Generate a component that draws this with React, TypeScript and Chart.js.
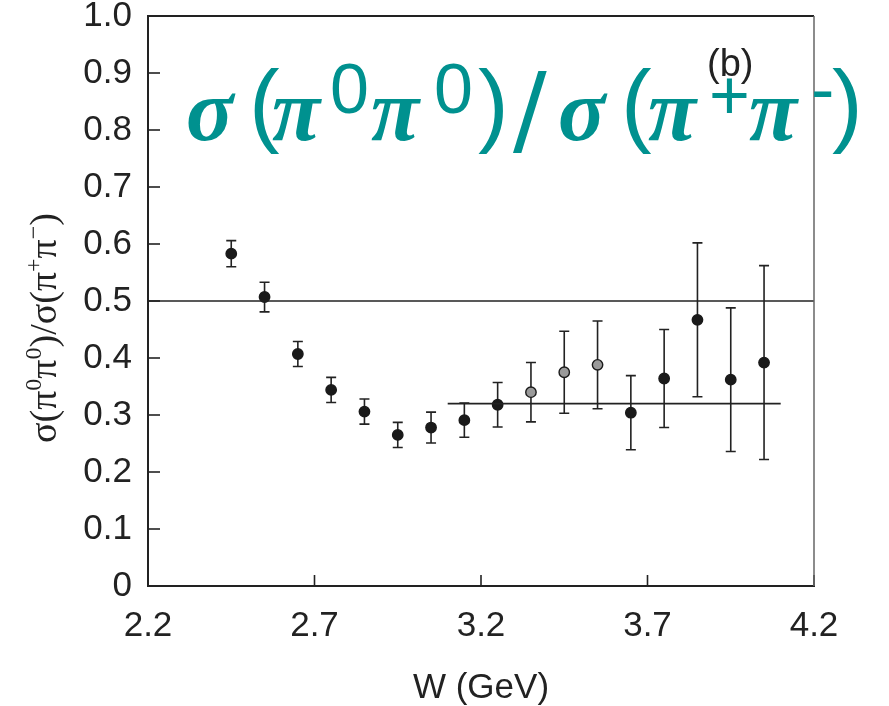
import React, { useEffect, useRef } from "react";
import { Chart, registerables } from "chart.js";

Chart.register(...registerables);

// ---- data ----
const W_GEV = [2.45, 2.55, 2.65, 2.75, 2.85, 2.95, 3.05, 3.15, 3.25, 3.35, 3.45, 3.55, 3.65, 3.75, 3.85, 3.95, 4.05];
const RATIO = [0.583, 0.507, 0.407, 0.344, 0.306, 0.265, 0.278, 0.291, 0.318, 0.340, 0.375, 0.388, 0.304, 0.364, 0.467, 0.362, 0.392];
const RATIO_ERR = [0.023, 0.026, 0.022, 0.022, 0.022, 0.022, 0.027, 0.030, 0.039, 0.052, 0.072, 0.077, 0.065, 0.086, 0.135, 0.126, 0.170];
const OPEN_GRAY = [false, false, false, false, false, false, false, false, false, true, true, true, false, false, false, false, false];

const LINE_HALF_X = [2.2, 4.2];
const LINE_HALF_Y = [0.5, 0.5];
const LINE_FIT_X = [3.1, 4.1];
const LINE_FIT_Y = [0.32, 0.32];

const X_TICKS = [2.2, 2.7, 3.2, 3.7, 4.2];
const Y_TICKS = [0, 0.1, 0.2, 0.3, 0.4, 0.5, 0.6, 0.7, 0.8, 0.9, 1.0];

const X_TITLE = "W (GeV)";
const PANEL_LABEL = "(b)";

const INK = "#222222";
const TEAL = "#00918f";

// big overlay title pieces: [text, font, x, baseline]
const BI = 'italic bold 88px "Liberation Serif", "DejaVu Serif", serif';
const PAR = '92px "Liberation Sans", Arial, sans-serif';
const SUP = '70px "Liberation Sans", Arial, sans-serif';
const SL = '100px "DejaVu Sans", sans-serif';
const BIG_TITLE: [string, string, number, number][] = [
  ["σ", BI, 186, 140],
  ["(", PAR, 249, 135],
  ["π", BI, 272, 140],
  ["0", SUP, 330, 113],
  ["π", BI, 371, 140],
  ["0", SUP, 434, 113],
  [")", PAR, 478, 135],
  ["/", SL, 513, 144],
  ["σ", BI, 558, 140],
  ["(", PAR, 621, 135],
  ["π", BI, 648, 140],
  ["+", SUP, 709, 119],
  ["π", BI, 749, 140],
  ["-", SUP, 811, 113],
  [")", PAR, 832, 135],
];

// y-axis title pieces: [text, isSup]
const Y_TITLE: [string, boolean][] = [
  ["σ(π", false], ["0", true], ["π", false], ["0", true], [")/σ(π", false], ["+", true], ["π", false], ["−", true], [")", false],
];

const overlayPlugin = {
  id: "overlay",
  beforeDatasetsDraw(chart: any) {
    const ctx = chart.ctx;
    const xs = chart.scales.x;
    const ys = chart.scales.y;
    const ds = chart.data.datasets[2];
    ctx.save();
    ctx.strokeStyle = INK;
    ctx.lineWidth = 1.6;
    ds.data.forEach((p: any, i: number) => {
      const e = RATIO_ERR[i];
      const px = xs.getPixelForValue(p.x);
      const top = ys.getPixelForValue(p.y + e);
      const bot = ys.getPixelForValue(p.y - e);
      ctx.beginPath();
      ctx.moveTo(px, top);
      ctx.lineTo(px, bot);
      ctx.moveTo(px - 5, top);
      ctx.lineTo(px + 5, top);
      ctx.moveTo(px - 5, bot);
      ctx.lineTo(px + 5, bot);
      ctx.stroke();
    });
    ctx.restore();
  },
  afterDraw(chart: any) {
    const ctx = chart.ctx;
    const a = chart.chartArea;
    const xs = chart.scales.x;
    const ys = chart.scales.y;
    ctx.save();
    // inward ticks
    ctx.strokeStyle = INK;
    ctx.lineWidth = 1.6;
    Y_TICKS.forEach((v) => {
      const py = ys.getPixelForValue(v);
      ctx.beginPath();
      ctx.moveTo(a.left, py);
      ctx.lineTo(a.left + 12, py);
      ctx.stroke();
    });
    X_TICKS.forEach((v) => {
      const px = xs.getPixelForValue(v);
      ctx.beginPath();
      ctx.moveTo(px, a.bottom);
      ctx.lineTo(px, a.bottom - 11);
      ctx.stroke();
    });
    // top and right frame
    ctx.lineWidth = 2;
    ctx.strokeStyle = INK;
    ctx.beginPath();
    ctx.moveTo(a.left, a.top);
    ctx.lineTo(a.right, a.top);
    ctx.stroke();
    ctx.lineWidth = 1.5;
    ctx.strokeStyle = "#666666";
    ctx.beginPath();
    ctx.moveTo(a.right, a.top);
    ctx.lineTo(a.right, a.bottom);
    ctx.stroke();

    // y-axis title (rotated)
    ctx.fillStyle = INK;
    ctx.textBaseline = "alphabetic";
    ctx.textAlign = "left";
    const mainF = '38px "Liberation Serif", "DejaVu Serif", serif';
    const supF = '24px "Liberation Serif", "DejaVu Serif", serif';
    let total = 0;
    Y_TITLE.forEach(([t, s]) => {
      ctx.font = s ? supF : mainF;
      total += ctx.measureText(t).width;
    });
    ctx.translate(56, 328);
    ctx.rotate(-Math.PI / 2);
    let cx = -total / 2;
    Y_TITLE.forEach(([t, s]) => {
      ctx.font = s ? supF : mainF;
      ctx.fillText(t, cx, s ? -15 : 0);
      cx += ctx.measureText(t).width;
    });
    ctx.setTransform(1, 0, 0, 1, 0, 0);

    // panel label
    ctx.fillStyle = INK;
    ctx.font = '38px "Liberation Sans", Arial, sans-serif';
    ctx.fillText(PANEL_LABEL, 707, 76);

    // big teal title
    ctx.fillStyle = TEAL;
    BIG_TITLE.forEach(([t, f, x, y]) => {
      ctx.font = f;
      ctx.fillText(t, x, y);
    });
    ctx.restore();
  },
};

export default function App() {
  const ref = useRef<HTMLCanvasElement | null>(null);
  useEffect(() => {
    if (!ref.current) return;
    const tickFont = { family: '"Liberation Sans", Arial, sans-serif', size: 35 };
    const chart = new Chart(ref.current, {
      type: "scatter",
      data: {
        datasets: [
          {
            type: "line",
            data: LINE_HALF_X.map((x, i) => ({ x, y: LINE_HALF_Y[i] })),
            borderColor: INK,
            borderWidth: 1.6,
            pointRadius: 0,
            fill: false,
          },
          {
            type: "line",
            data: LINE_FIT_X.map((x, i) => ({ x, y: LINE_FIT_Y[i] })),
            borderColor: INK,
            borderWidth: 1.6,
            pointRadius: 0,
            fill: false,
          },
          {
            data: W_GEV.map((x, i) => ({ x, y: RATIO[i] })),
            pointRadius: 5.2,
            pointBackgroundColor: OPEN_GRAY.map((g) => (g ? "#9a9a9a" : "#1a1a1a")),
            pointBorderColor: "#1a1a1a",
            pointBorderWidth: 1.4,
          },
        ],
      },
      options: {
        responsive: false,
        animation: false,
        layout: { padding: { left: 0, top: 16, right: 75, bottom: 0 } },
        plugins: { legend: { display: false }, tooltip: { enabled: false } },
        scales: {
          x: {
            type: "linear",
            min: 2.2,
            max: 4.2,
            afterBuildTicks: (s: any) => {
              s.ticks = X_TICKS.map((v) => ({ value: v }));
            },
            afterFit: (s: any) => {
              s.height = 120;
              s.paddingLeft = 0;
              s.paddingRight = 0;
            },
            grid: { display: false, drawTicks: false },
            border: { display: true, color: INK, width: 2 },
            ticks: {
              font: tickFont,
              color: INK,
              padding: 19,
              maxRotation: 0,
              callback: (v: any) => Number(v).toFixed(1),
            },
            title: {
              display: true,
              text: X_TITLE,
              color: INK,
              font: { family: '"Liberation Sans", Arial, sans-serif', size: 35, lineHeight: 1.0 },
              padding: { top: 0, bottom: 0 },
            },
          },
          y: {
            type: "linear",
            min: 0,
            max: 1.0,
            afterBuildTicks: (s: any) => {
              s.ticks = Y_TICKS.map((v) => ({ value: v }));
            },
            afterFit: (s: any) => {
              s.width = 148;
              s.paddingTop = 0;
              s.paddingBottom = 0;
            },
            grid: { display: false, drawTicks: false },
            border: { display: true, color: INK, width: 2 },
            ticks: {
              font: tickFont,
              color: INK,
              padding: 16,
              callback: (v: any) => (v === 0 ? "0" : Number(v).toFixed(1)),
            },
          },
        },
      },
      plugins: [overlayPlugin],
    } as any);
    return () => chart.destroy();
  }, []);
  return (
    <div style={{ position: "absolute", left: 0, top: 0, width: 889, height: 706, background: "#fff" }}>
      <canvas ref={ref} width={889} height={706} style={{ display: "block" }} />
    </div>
  );
}
